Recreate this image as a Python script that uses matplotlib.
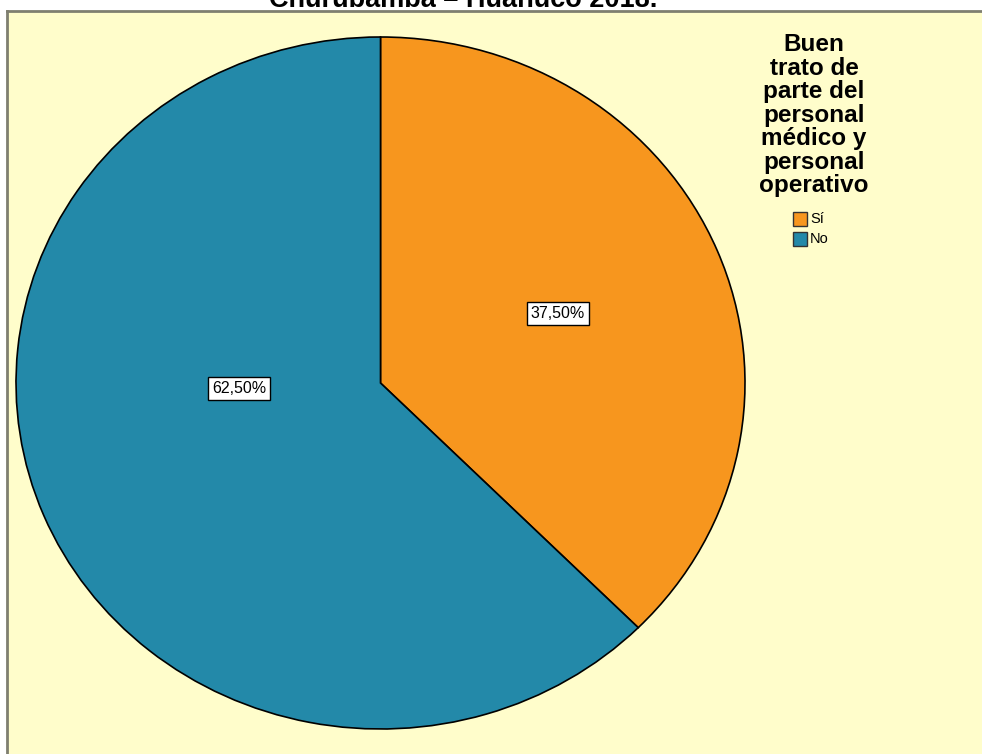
import matplotlib.pyplot as plt
from matplotlib.patches import Rectangle

plt.rcParams['font.family'] = ['Liberation Sans', 'DejaVu Sans']

# datos
categorias = ['Sí', 'No']
porcentajes = [37.5, 62.5]
colores = ['#F7961E', '#2389A9']
titulo_leyenda = 'Buen\ntrato de\nparte del\npersonal\nmédico y\npersonal\noperativo'
titulo = 'Churubamba – Huánuco 2018.'

W, H = 982, 754
fig = plt.figure(figsize=(W / 100, H / 100), dpi=100)
fig.patch.set_facecolor('white')

# fondo del grafico
fondo = fig.add_axes([7 / W, 0, 1 - 7 / W, 1 - 11 / H])
fondo.set_facecolor('#FFFDCB')
fondo.set_xticks([])
fondo.set_yticks([])
for lado in ['right', 'bottom']:
    fondo.spines[lado].set_visible(False)
for lado in ['left', 'top']:
    fondo.spines[lado].set_color('#7F7F70')
    fondo.spines[lado].set_linewidth(2)

fig.text(463 / W, 1 - 7 / H, titulo, ha='center', va='baseline',
         fontsize=19.5, fontweight='bold')

# pastel
ax = fig.add_axes([16 / W, 1 - 729 / H, 729 / W, 692 / H])
ax.set_facecolor('none')
cunas, _ = ax.pie(porcentajes, colors=colores, startangle=90, counterclock=False,
                  wedgeprops={'edgecolor': 'black', 'linewidth': 1.2})
ax.set_aspect('auto')
ax.set_xlim(-1, 1)
ax.set_ylim(-1, 1)
ax.axis('off')

pos_etiquetas = [(0.487, 0.202), (-0.388, -0.017)]
for (x, y), p in zip(pos_etiquetas, porcentajes):
    ax.text(x, y, f'{p:.2f}%'.replace('.', ','), ha='center', va='center',
            fontsize=11.5,
            bbox=dict(boxstyle='square,pad=0.25', facecolor='white',
                      edgecolor='black', linewidth=1))

# leyenda
fig.text(814 / W, 1 - 33 / H, titulo_leyenda, ha='center', va='top',
         fontsize=17.5, fontweight='bold', linespacing=1.03)
for i, (cat, col) in enumerate(zip(categorias, colores)):
    yc = 219 + i * 20
    fig.patches.append(Rectangle((793 / W, 1 - (yc + 7) / H), 14 / W, 14 / H,
                                 facecolor=col, edgecolor='#333333', linewidth=1,
                                 transform=fig.transFigure, figure=fig))
    fig.text(810 / W, 1 - yc / H, cat, ha='left', va='center', fontsize=10.5)

fig.savefig('out.png', dpi=100, facecolor='white')
